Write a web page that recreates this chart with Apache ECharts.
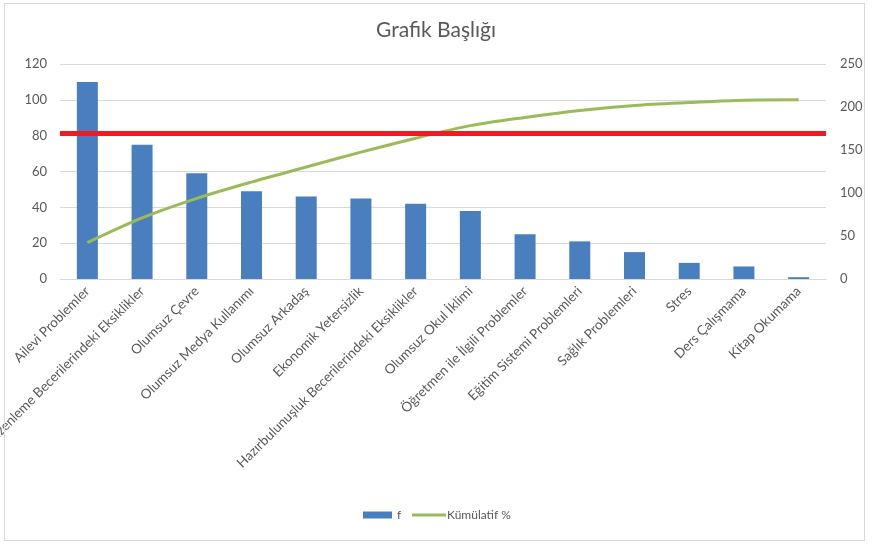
<!DOCTYPE html>
<html>
<head>
<meta charset="utf-8">
<script src="https://cdn.jsdelivr.net/npm/echarts@6/dist/echarts.min.js"></script>
<style>
  html, body { margin: 0; padding: 0; background: #fff; }
  #wrap { position: relative; width: 872px; height: 547px; }
  #frame { position: absolute; left: 4px; top: 3px; width: 861px; height: 538px; border: 1px solid #d9d9d9; box-sizing: border-box; pointer-events: none; }
  #main { position: absolute; left: 0; top: 0; width: 872px; height: 547px; }
</style>
</head>
<body>
<div id="wrap">
  <div id="main"></div>
  <div id="frame"></div>
</div>
<script>
const titleText = 'Grafik Başlığı';
const categories = [
  'Ailevi Problemler',
  'Düzenleme Becerilerindeki Eksiklikler',
  'Olumsuz Çevre',
  'Olumsuz Medya Kullanımı',
  'Olumsuz Arkadaş',
  'Ekonomik Yetersizlik',
  'Hazırbulunuşluk Becerilerindeki Eksiklikler',
  'Olumsuz Okul İklimi',
  'Öğretmen ile İlgili Problemler',
  'Eğitim Sistemi Problemleri',
  'Sağlık Problemleri',
  'Stres',
  'Ders Çalışmama',
  'Kitap Okumama'
];
const fValues = [110, 75, 59, 49, 46, 45, 42, 38, 25, 21, 15, 9, 7, 1];
const cumulativePct = [20.3, 34.1, 45.0, 54.1, 62.5, 70.8, 78.6, 85.6, 90.2, 94.1, 96.9, 98.5, 99.8, 100];
const thresholdLevel = 81.6;
const leftAxis = { min: 0, max: 120, interval: 20 };
const rightAxis = { min: 0, max: 250, interval: 50 };

const FONT = 'Lato, "Open Sans", sans-serif';
const TEXT = '#595959';

const chart = echarts.init(document.getElementById('main'), null, { renderer: 'canvas' });
chart.setOption({
  animation: false,
  backgroundColor: '#ffffff',
  textStyle: { fontFamily: FONT },
  title: {
    text: titleText,
    left: 'center',
    top: 15,
    textStyle: { fontFamily: FONT, fontSize: 21, fontWeight: 'normal', color: TEXT }
  },
  legend: [
    {
      left: 363,
      top: 509,
      padding: 0,
      itemWidth: 29,
      itemHeight: 7,
      textStyle: { fontFamily: FONT, fontSize: 12, color: TEXT },
      data: [{ name: 'f', icon: 'rect' }]
    },
    {
      left: 412,
      top: 509,
      padding: 0,
      itemWidth: 34,
      itemHeight: 3,
      textStyle: { fontFamily: FONT, fontSize: 12, color: TEXT, padding: [0, 0, 0, -4] },
      data: [{ name: 'Kümülatif %', icon: 'rect' }]
    }
  ],
  grid: { left: 60, right: 46, top: 64, bottom: 268, containLabel: false, outerBoundsMode: 'none' },
  xAxis: {
    type: 'category',
    data: categories,
    axisLine: { show: true, lineStyle: { color: '#d9d9d9', width: 1 } },
    axisTick: { show: false },
    axisLabel: {
      rotate: 45,
      interval: 0,
      margin: 10,
      fontFamily: FONT,
      fontSize: 13.5,
      color: TEXT
    }
  },
  yAxis: [
    {
      type: 'value',
      min: leftAxis.min, max: leftAxis.max, interval: leftAxis.interval,
      axisLine: { show: false },
      axisTick: { show: false },
      axisLabel: { margin: 13, fontFamily: FONT, fontSize: 13, color: TEXT },
      splitLine: { show: true, lineStyle: { color: '#d9d9d9', width: 1 } }
    },
    {
      type: 'value',
      min: rightAxis.min, max: rightAxis.max, interval: rightAxis.interval,
      position: 'right',
      alignTicks: false,
      axisLine: { show: false },
      axisTick: { show: false },
      axisLabel: { margin: 14, fontFamily: FONT, fontSize: 13, color: TEXT },
      splitLine: { show: false }
    }
  ],
  series: [
    {
      name: 'f',
      type: 'bar',
      yAxisIndex: 0,
      data: fValues,
      barWidth: 21,
      itemStyle: { color: '#4a7fbf' },
      markLine: {
        silent: true,
        symbol: ['none', 'none'],
        label: { show: false },
        lineStyle: { color: '#ec1c24', width: 5, type: 'solid' },
        data: [{ yAxis: thresholdLevel }]
      },
      z: 2
    },
    {
      name: 'Kümülatif %',
      type: 'line',
      yAxisIndex: 0,
      data: cumulativePct,
      smooth: 0.3,
      symbol: 'none',
      lineStyle: { color: '#9bbb59', width: 3 },
      itemStyle: { color: '#9bbb59' },
      z: 3
    }
  ]
});
</script>
</body>
</html>
